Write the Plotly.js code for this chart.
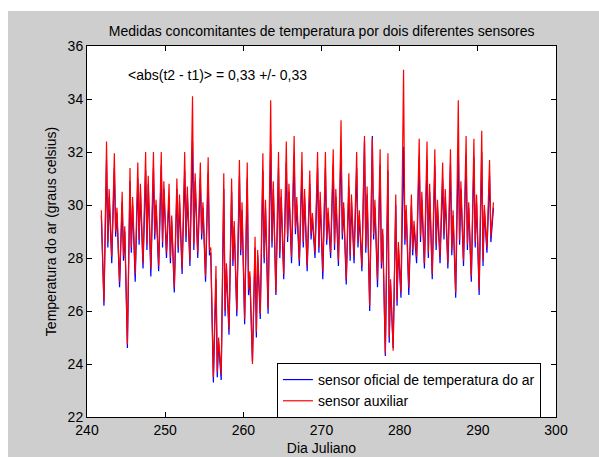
<!DOCTYPE html>
<html>
<head>
<meta charset="utf-8">
<script src="https://cdn.plot.ly/plotly-3.0.1.min.js"></script>
<style>html,body{margin:0;padding:0;background:#fff;}#chart{width:599px;height:457px;}</style>
</head>
<body>
<div id="chart"></div>
<script>
// Julian days covered by the record
var days = [242,243,244,245,246,247,248,249,250,251,252,253,254,255,256,257,258,259,260,261,
            262,263,264,265,266,267,268,269,270,271,272,273,274,275,276,277,278,279,280,281,
            282,283,284,285,286,287,288,289,290,291];
// sample hours within each day (evening of previous day, night minimum, daytime maximum, afternoon dip)
var sampleHours = [-4, 4, 12, 16];

// sensor auxiliar (red)
var auxEvening = [29.8,30.6,29.9,29.2,30.3,30.8,31.1,30.2,30.9,29.6,30.4,30.7,31.2,30.1,28.4,25.0,27.8,29.4,30.1,27.5,
                  28.3,30.2,30.9,30.6,30.8,30.3,30.6,29.7,30.5,29.9,30.6,30.1,30.4,29.8,30.7,30.2,29.1,27.2,28.6,30.0,
                  29.4,30.5,30.8,30.2,30.6,29.8,30.9,30.1,30.4,30.0];
var auxMin = [26.35,28.05,27.1,24.75,27.4,27.8,27.6,27.7,28.2,26.9,27.6,27.9,28.2,27.3,23.5,23.6,25.3,26.0,25.7,24.0,
              25.9,26.1,26.7,27.4,28.05,27.9,27.7,28.2,27.5,28.2,27.9,27.2,28.05,27.7,26.2,27.2,24.4,24.5,26.7,26.9,
              28.05,27.8,27.4,28.05,27.8,26.7,27.9,27.3,26.8,28.4];
var auxMax = [32.4,31.95,30.5,31.4,31.6,32.0,32.0,32.0,30.8,31.0,32.0,34.1,31.6,31.8,27.7,31.2,31.0,31.7,31.6,28.8,
              31.95,33.95,32.0,32.4,32.6,32.0,31.3,32.0,32.0,32.1,33.2,31.2,32.0,32.6,32.5,32.1,31.95,30.4,35.1,30.4,
              32.5,32.4,32.1,31.6,32.1,33.95,32.6,32.5,32.8,31.7];
var auxDip = [28.6,29.0,28.1,28.4,28.7,28.5,28.9,28.6,28.0,28.4,28.8,28.5,28.9,28.3,23.7,26.0,27.9,28.3,26.8,25.2,
              28.0,28.6,28.2,28.8,29.1,28.6,28.9,28.4,28.7,28.5,28.9,28.1,28.6,28.4,28.9,27.8,25.0,26.4,28.7,28.3,
              28.8,28.2,28.5,28.9,28.3,28.7,28.5,28.6,27.9,28.8];

// sensor oficial de temperatura do ar (blue)
var ofiEvening = [29.6,30.3,29.7,29.0,30.0,30.5,30.8,30.0,30.6,29.4,30.1,30.4,30.9,29.9,28.2,24.8,27.6,29.2,29.8,27.3,
                  28.1,29.9,30.6,30.3,30.5,30.0,30.3,29.5,30.2,29.7,30.3,29.9,30.1,29.6,30.4,29.9,28.9,27.0,28.4,29.8,
                  29.2,30.2,30.5,29.9,30.3,29.6,30.6,29.9,30.1,29.8];
var ofiMin = [26.2,27.8,26.9,24.6,27.1,27.6,27.3,27.5,28.0,26.7,27.4,27.7,28.0,27.1,23.3,23.4,25.1,25.8,25.5,24.1,
              25.7,25.9,26.6,27.2,27.8,27.7,27.5,28.0,27.2,28.0,27.7,27.0,27.8,27.5,26.0,26.9,24.3,24.6,26.5,26.6,
              27.8,27.6,27.2,27.8,27.6,26.5,27.7,27.1,26.6,28.2];
var ofiMax = [31.7,31.4,30.1,30.9,31.0,31.3,31.4,31.5,30.3,30.6,31.3,32.4,31.0,31.2,27.2,30.6,30.5,31.1,31.0,28.4,
              31.3,32.3,31.4,31.6,31.9,31.3,30.8,31.4,31.4,31.5,32.2,30.7,31.4,32.4,32.6,31.5,31.3,30.0,32.2,30.0,
              31.8,31.7,31.5,31.0,31.5,32.2,31.9,31.8,32.0,31.1];
var ofiDip = [28.4,28.8,27.9,28.2,28.5,28.3,28.7,28.4,27.8,28.2,28.6,28.3,28.7,28.1,23.5,25.8,27.7,28.1,26.6,25.0,
              27.8,28.4,28.0,28.6,28.9,28.4,28.7,28.2,28.5,28.3,28.7,27.9,28.4,28.2,28.7,27.6,24.8,26.2,28.5,28.1,
              28.6,28.0,28.3,28.7,28.1,28.5,28.3,28.4,27.7,28.6];

// last reading
var endDay = 292.0;
var auxEnd = 30.1;
var ofiEnd = 29.9;

var xTicks = [240,250,260,270,280,290,300];
var yTicks = [22,24,26,28,30,32,34,36];

function buildSeries(ev, mn, mx, dp, endVal) {
  var xs = [], ys = [];
  var groups = [ev, mn, mx, dp];
  for (var i = 0; i < days.length; i++) {
    for (var k = 0; k < sampleHours.length; k++) {
      xs.push(days[i] + sampleHours[k] / 24);
      ys.push(groups[k][i]);
    }
  }
  xs.push(endDay); ys.push(endVal);
  return {x: xs, y: ys};
}

var ofi = buildSeries(ofiEvening, ofiMin, ofiMax, ofiDip, ofiEnd);
var aux = buildSeries(auxEvening, auxMin, auxMax, auxDip, auxEnd);

var traces = [
  {x: ofi.x, y: ofi.y, type: 'scatter', mode: 'lines', name: 'sensor oficial de temperatura do ar',
   line: {color: '#0000ff', width: 1.2}},
  {x: aux.x, y: aux.y, type: 'scatter', mode: 'lines', name: 'sensor auxiliar',
   line: {color: '#ff0000', width: 1.2}}
];

var fnt = 'Liberation Sans, Arial, Helvetica, sans-serif';
var axisCommon = {
  ticks: 'inside', ticklen: 5, tickwidth: 1, tickcolor: '#000',
  showline: true, linecolor: '#000', linewidth: 1, mirror: 'ticks',
  showgrid: false, zeroline: false, fixedrange: true,
  tickfont: {family: fnt, size: 14, color: '#000'}
};

var layout = {
  width: 599, height: 457,
  margin: {l: 87, r: 43, t: 46, b: 40, pad: 0},
  paper_bgcolor: '#ffffff',
  plot_bgcolor: 'rgba(0,0,0,0)',
  font: {family: fnt, size: 14, color: '#000'},
  showlegend: true,
  title: {text: 'Medidas concomitantes de temperatura por dois diferentes sensores',
          x: 0.537, xanchor: 'center', y: 0.932, yref: 'container', yanchor: 'middle',
          font: {family: fnt, size: 14, color: '#000'}},
  xaxis: Object.assign({}, axisCommon, {range: [240, 300], tickvals: xTicks, ticktext: xTicks.map(String),
          title: {text: 'Dia Juliano', standoff: 6, font: {family: fnt, size: 14, color: '#000'}}}),
  yaxis: Object.assign({}, axisCommon, {range: [22, 36], tickvals: yTicks, ticktext: yTicks.map(String),
          title: {text: 'Temperatura do ar (graus celsius)', standoff: 7, font: {family: fnt, size: 14, color: '#000'}}}),
  legend: {x: 0.405, y: 0.1456, xanchor: 'left', yanchor: 'top', bgcolor: '#ffffff',
           bordercolor: '#000', borderwidth: 1, font: {family: fnt, size: 14, color: '#000'},
           tracegroupgap: 0, itemwidth: 30},
  annotations: [
    {text: '&lt;abs(t2 - t1)&gt; = 0,33 +/- 0,33', x: 245.0, y: 34.9, xref: 'x', yref: 'y',
     xanchor: 'left', yanchor: 'middle', showarrow: false, font: {family: fnt, size: 14, color: '#000'}}
  ],
  shapes: [
    {type: 'rect', xref: 'paper', yref: 'paper', x0: -0.1684, x1: 1.0917, y0: -0.1078, y1: 1.0943,
     fillcolor: '#cecece', line: {width: 0}, layer: 'below'},
    {type: 'rect', xref: 'paper', yref: 'paper', x0: 0, x1: 1, y0: 0, y1: 1,
     fillcolor: '#ffffff', line: {width: 0}, layer: 'below'}
  ]
};

Plotly.newPlot('chart', traces, layout, {displayModeBar: false, staticPlot: true});
</script>
</body>
</html>
